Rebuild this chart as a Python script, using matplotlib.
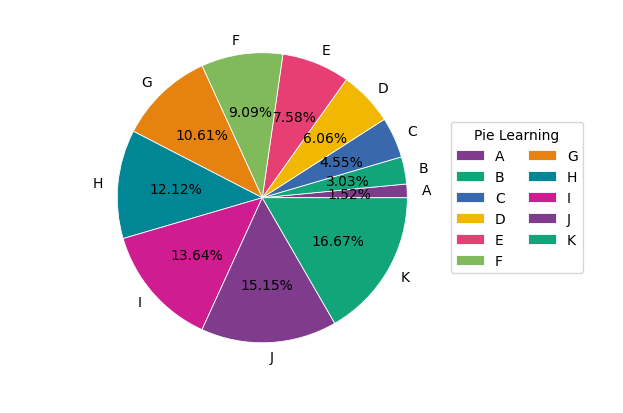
import matplotlib.pyplot as plt

labels = ['A', 'B', 'C', 'D', 'E', 'F', 'G', 'H', 'I', 'J', 'K']
values = [1, 2, 3, 4, 5, 6, 7, 8, 9, 10, 11]
palette = ['#7F3C8D', '#11A579', '#3969AC', '#F2B701', '#E73F74',
           '#80BA5A', '#E68310', '#008695', '#CF1C90']
colors = [palette[i % len(palette)] for i in range(len(labels))]

fig = plt.figure(figsize=(6.23, 4.14), dpi=100)
ax = fig.add_axes([0.130, 0.082, 0.582, 0.876])
ax.pie(values, labels=labels, colors=colors, autopct='%.2f%%',
       wedgeprops={'edgecolor': 'white', 'linewidth': 0.6})
ax.legend(title='Pie Learning', ncol=2, loc='center left',
          bbox_to_anchor=(1, 0.5), columnspacing=1.6)

fig.savefig('out.png')
